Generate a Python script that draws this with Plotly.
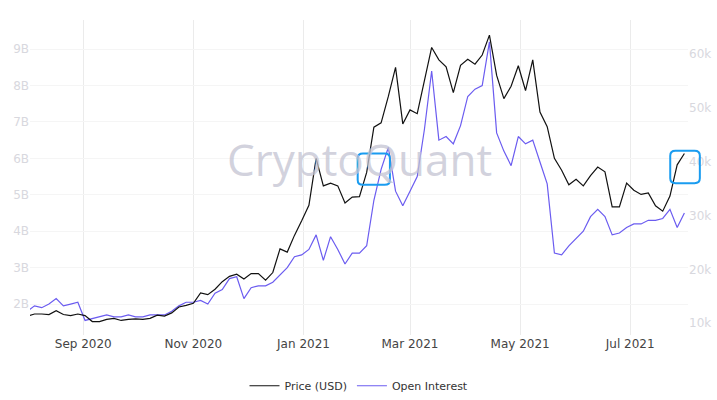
import plotly.graph_objects as go
import pandas as pd

dates = pd.date_range("2020-08-01", "2021-07-31", freq="4D")

price = [11.3,11.7,11.7,11.6,12.3,11.6,11.4,11.7,11.4,10.3,10.3,10.7,10.9,10.5,10.7,10.8,
         10.7,10.9,11.5,11.3,11.9,13.0,13.3,13.7,15.6,15.3,16.3,17.7,18.7,19.1,18.2,19.2,
         19.2,18.0,19.4,23.8,23.2,26.3,29.0,31.9,40.6,35.5,36.0,35.5,32.3,33.4,33.5,38.0,
         46.4,47.2,52.1,57.5,47.0,49.6,48.9,54.9,61.2,58.9,57.6,52.8,57.9,59.0,58.1,59.8,
         63.5,56.0,51.7,54.0,57.8,53.2,58.9,49.2,46.5,40.6,38.4,35.7,36.7,35.5,37.4,39.0,
         38.1,31.6,31.6,36.0,34.7,33.9,34.2,31.8,30.8,33.6,39.4,41.5]
price = [p * 1000 for p in price]

oi = [1.8,1.95,1.9,2.0,2.15,1.95,2.0,2.05,1.55,1.6,1.65,1.7,1.65,1.65,1.7,1.65,
      1.65,1.7,1.7,1.7,1.8,1.95,2.05,2.05,2.1,2.0,2.3,2.4,2.7,2.75,2.15,2.45,
      2.5,2.5,2.6,2.8,3.0,3.3,3.35,3.5,3.9,3.2,3.85,3.5,3.1,3.4,3.4,3.6,
      4.85,5.7,6.3,5.1,4.7,5.1,5.5,6.8,8.4,6.5,6.6,6.4,6.9,7.7,7.9,8.0,
      9.2,6.7,6.2,5.8,6.6,6.4,6.5,5.9,5.3,3.4,3.35,3.6,3.8,4.0,4.4,4.6,
      4.4,3.9,3.95,4.1,4.2,4.2,4.3,4.3,4.35,4.6,4.1,4.5]
oi = [v * 1e9 for v in oi]

fig = go.Figure()
fig.add_trace(go.Scatter(x=dates, y=price, name="Price (USD)", yaxis="y2",
                         line=dict(color="#111111", width=1.2)))
fig.add_trace(go.Scatter(x=dates, y=oi, name="Open Interest", yaxis="y",
                         line=dict(color="#6b5cf0", width=1.2)))


def rounded(x0, x1, y0, y1, rx=0.008, ry=900):
    return (f"M{x0+rx},{y0} L{x1-rx},{y0} Q{x1},{y0} {x1},{y0+ry} L{x1},{y1-ry} "
            f"Q{x1},{y1} {x1-rx},{y1} L{x0+rx},{y1} Q{x0},{y1} {x0},{y1-ry} "
            f"L{x0},{y0+ry} Q{x0},{y0} {x0+rx},{y0} Z")


box = dict(type="path", xref="paper", yref="y2", line=dict(color="#1a9cf0", width=2))
fig.add_shape(**box, path=rounded(0.498, 0.547, 35700, 41500))
fig.add_shape(**box, path=rounded(0.973, 1.018, 36000, 42000))

fig.add_annotation(text="CryptoQuant", xref="paper", yref="paper", x=0.5, y=0.56,
                   showarrow=False, font=dict(size=44, color="rgba(195,195,210,0.75)",
                                              family="Open Sans"))

fig.update_layout(
    width=717, height=400, plot_bgcolor="white", paper_bgcolor="white",
    margin=dict(l=30, r=29, t=20, b=65, autoexpand=False),
    font=dict(family="DejaVu Sans", size=12),
    showlegend=True,
    legend=dict(orientation="h", x=0.5, xanchor="center", y=-0.115, yanchor="top",
                font=dict(size=11, color="#333")),
    xaxis=dict(range=["2020-08-02 12:00", "2021-08-02"], showgrid=True, gridcolor="#ebebeb",
               dtick="M2", tick0="2020-09-01", tickformat="%b %Y", automargin=False,
               tickfont=dict(color="#444", size=12), zeroline=False),
    yaxis=dict(range=[1.15e9, 9.8e9], tickvals=[i * 1e9 for i in range(2, 10)],
               ticktext=[f"{i}B" for i in range(2, 10)], showgrid=True, gridcolor="#f5f5f5",
               tickfont=dict(color="#d8d8de", size=12), zeroline=False, automargin=False),
    yaxis2=dict(range=[7800, 66300], overlaying="y", side="right", automargin=False,
                tickvals=[10000, 20000, 30000, 40000, 50000, 60000],
                ticktext=["10k", "20k", "30k", "40k", "50k", "60k"], showgrid=False,
                tickfont=dict(color="#d8d8de", size=12), zeroline=False),
)
fig.write_html("out.html", config={"displayModeBar": False},
               post_script="document.body.style.margin='0';")
